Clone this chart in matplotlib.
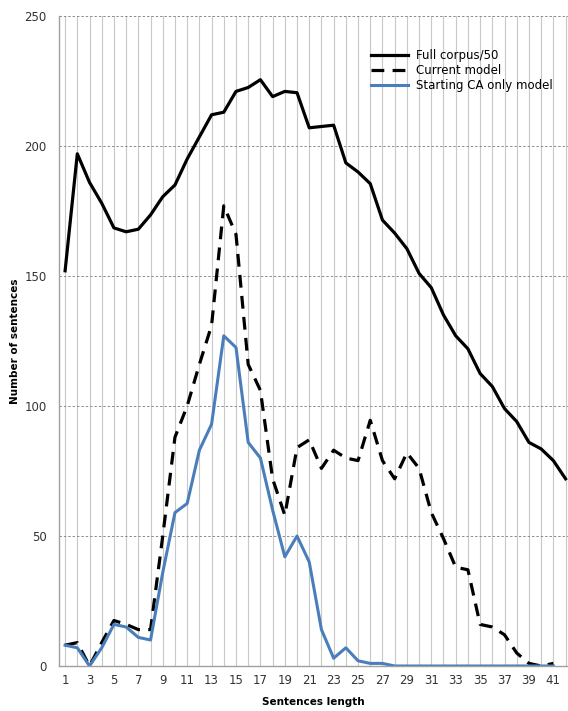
import matplotlib
matplotlib.use('Agg')
import matplotlib.pyplot as plt

# sentence lengths (x axis categories)
lengths = list(range(1, 43))

# Full corpus / 50
full_corpus = [152, 197, 186, 178, 168.5, 167, 168, 173.5, 180.5, 185,
               195, 203.5, 212, 213, 221, 222.5, 225.5, 219, 221, 220.5,
               207, 207.5, 208, 193.5, 190, 185.5, 171.5, 166.5, 160.5, 151,
               145.5, 135, 127, 122, 112.5, 107.5, 99, 94, 86, 83.5,
               79, 72]

# Current model (stops at 41)
current_model = [8, 9, 0, 9, 17.5, 16, 14, 14, 50, 88,
                 100, 116, 131, 177, 166, 116, 106, 72, 58, 84,
                 87, 76, 83, 80, 79, 94.5, 79, 72, 82, 76,
                 59, 49, 38, 37, 16, 15, 12, 5, 1, 0,
                 1]

# Starting CA only model (stops at 41)
ca_only = [8, 7, 0, 7, 16, 15, 11, 10, 36, 59,
           62.5, 83, 93, 127, 122.5, 86, 80, 60, 42, 50,
           40, 14, 3, 7, 2, 1, 1, 0, 0, 0,
           0, 0, 0, 0, 0, 0, 0, 0, 0, 0,
           0]

y_ticks = [0, 50, 100, 150, 200, 250]
x_ticks = list(range(1, 42, 2))

fig = plt.figure(figsize=(5.68, 7.11), dpi=100)
ax = fig.add_axes([59 / 568, 45 / 711, 1 - 59 / 568, 650 / 711])

ax.plot(lengths, full_corpus, color='black', lw=2.3, label='Full corpus/50',
        solid_joinstyle='round')
ax.plot(lengths[:len(current_model)], current_model, color='black', lw=2.3,
        dashes=(4, 2.6), label='Current model')
ax.plot(lengths[:len(ca_only)], ca_only, color='#4a7ebb', lw=2.2,
        label='Starting CA only model', solid_joinstyle='round')

ax.set_xlim(0.5, 42.2)
ax.set_ylim(0, 250)
ax.set_yticks(y_ticks)
ax.set_xticks(x_ticks)
ax.set_xticks(lengths, minor=True)

# light vertical lines at each category, dashed horizontal lines
ax.grid(True, axis='x', which='both', color='#c8c8c8', lw=0.8, ls='-')
ax.grid(True, axis='y', which='major', color='#8c8c8c', lw=0.7, ls=(0, (2.5, 2)))
ax.set_axisbelow(True)

for s in ['top', 'right']:
    ax.spines[s].set_visible(False)
for s in ['left', 'bottom']:
    ax.spines[s].set_color('#a0a0a0')
    ax.spines[s].set_linewidth(1.0)

ax.tick_params(axis='both', which='both', length=0, labelsize=8.5,
               labelcolor='#333333')
ax.tick_params(axis='x', pad=6)
ax.tick_params(axis='y', pad=9)

ax.set_xlabel('Sentences length', fontsize=7.5, fontweight='bold', labelpad=7)
ax.set_ylabel('Number of sentences', fontsize=7.5, fontweight='bold', labelpad=3)

ax.legend(loc='upper right', bbox_to_anchor=(0.99, 0.965), frameon=False,
          fontsize=8.5, handlelength=3.2, labelspacing=0.15, handletextpad=0.6)

plt.savefig('out.png', dpi=100)
plt.close()
